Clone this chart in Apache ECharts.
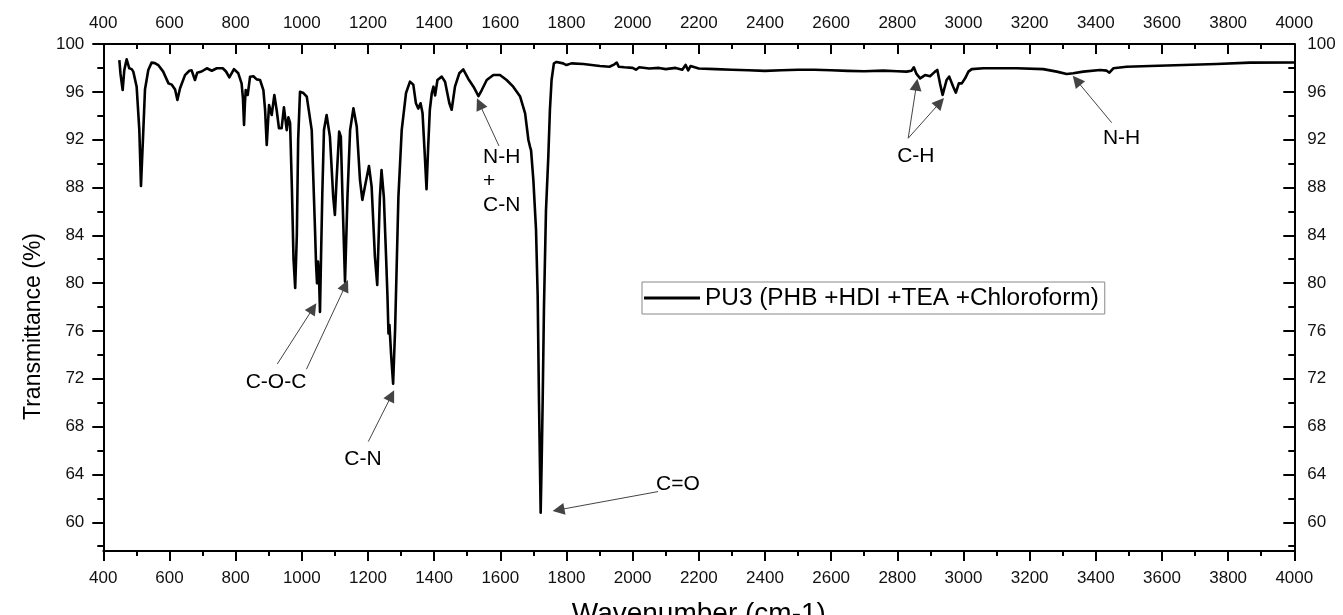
<!DOCTYPE html>
<html>
<head>
<meta charset="utf-8">
<script src="https://cdn.jsdelivr.net/npm/echarts@6/dist/echarts.min.js"></script>
<style>
html,body{margin:0;padding:0;background:#fff;}
#chart{width:1343px;height:615px;}
</style>
</head>
<body>
<div id="chart"></div>
<script>
// ---- data ----
const seriesName = 'PU3 (PHB +HDI +TEA +Chloroform)';
const wavenumber = [
 448.5,452,458.5,463.5,470.6,478.6,485.7,490.7,500.8,508.9,513.9,521,526,536,546,556,566,571,581,597,
 607,617,624,632,647,660,667,677,684,697,713,728,743,761,771,781,795,808,818,822,
 825.4,828,830.5,836.5,843.6,853.7,863.7,873.8,883.9,889,894,898,901,909,917,924,931,939,946,954.5,
 959.5,964.6,970,975,980,985,989,994.6,1005,1015,1030,1040,1043,1046,1049,1052,1055,1058,1062,1067,
 1075,1085,1095,1100,1105,1113,1118,1123,1130.6,1138,1146,1156,1166,1176,1183,1191,1203,1211,1221,1228,
 1236,1241,1248,1255,1259,1262,1265,1270,1276,1282,1292,1302,1315,1327,1337,1345,1352,1359,1365,1372,
 1377,1382,1387,1393,1398,1403,1410,1423,1433,1446,1453,1463,1476,1488,1503,1519,1534,1544,1559,1579,
 1599,1619,1639,1660,1675,1685,1690,1693,1700,1708,1713,1717,1720,1722,1725,1728,1732,1738,1745,1750,
 1755,1762,1770,1790,1800,1815,1851,1901,1930,1945,1952,1958,1975,2000,2010,2020,2050,2080,2100,2130,
 2150,2160,2168,2175,2200,2250,2300,2350,2400,2450,2500,2550,2600,2650,2700,2758,2800,2828,2843,2850,
 2858,2869,2884,2899,2914,2921,2929,2937,2949,2957,2969,2977,2986,2995,3005,3015,3025,3060,3161,3241,
 3282,3312,3332,3362,3413,3433,3441,3453,3493,3564,3665,3765,3866,4000
];
const transmittance = [
 98.66,97.5,96.15,97.83,98.72,97.97,97.9,97.69,96.43,92.8,88.13,92.8,96.2,97.83,98.44,98.4,98.24,98.4,97.69,96.71,
 96.6,96.2,95.32,96.3,97.4,97.76,97.8,96.99,97.6,97.7,97.97,97.76,97.97,97.97,97.7,97.2,97.9,97.55,96.71,95.5,
 93.23,95,96.15,95.74,97.26,97.3,97.04,96.99,96.15,94.5,91.56,93.5,94.9,94.06,95.74,94.48,92.95,92.95,94.7,92.8,
 93.87,93.4,88,82,79.6,84,92,96.0,95.9,95.6,92.8,84.45,81.66,80.0,81.8,80.5,77.6,82,87.5,92.8,
 94.06,92.25,87.2,85.7,88.6,92.67,92.25,87.2,80.13,87.2,92.8,94.62,93.1,88.6,86.96,88.1,89.8,88.1,82.2,79.85,
 87.2,89.46,87.2,82,78.87,75.8,76.5,74,71.6,76.1,87.2,92.8,95.9,96.85,96.6,95.04,94.6,95.04,94.2,90.58,
 87.85,91.4,94.5,95.9,96.43,95.7,96.99,97.27,96.85,95.04,94.5,96.43,97.55,97.88,97.1,96.43,95.65,96.15,96.99,97.41,
 97.41,96.99,96.43,95.6,94.2,91.97,91.4,91.1,88.6,84.45,78.9,70,64.5,60.8,65,70,78,86,90.5,94.5,
 96.99,98.38,98.5,98.38,98.24,98.38,98.33,98.16,98.1,98.3,98.45,98.1,98.05,98.0,97.85,98.05,97.95,98.0,97.9,98.0,
 97.85,98.25,97.8,98.15,97.95,97.9,97.85,97.8,97.75,97.8,97.85,97.85,97.8,97.75,97.72,97.77,97.72,97.69,97.77,98.05,
 97.5,97.13,97.4,97.3,97.69,97.83,96.71,95.74,96.99,97.27,96.43,95.93,96.71,96.71,97.13,97.69,97.9,97.97,97.97,97.9,
 97.69,97.49,97.55,97.69,97.83,97.77,97.6,97.97,98.1,98.16,98.24,98.33,98.44,98.45
];
const yMajorTicks = [60,64,68,72,76,80,84,88,92,96,100];
const yMinorTicks = [58,62,66,70,74,78,82,86,90,94,98];
// annotation texts with their anchor [wavenumber, %T]
const annotLabels = ['C-O-C','C-N','N-H\n+\nC-N','C=O','C-H','N-H'];
const annotAnchors = [[922,71.7],[1185,65.3],[1548,88.5],[2137,63.2],[2856,90.64],[3478,92.12]];
const annotAlign = ['center','center','left','center','center','center'];
// arrows: [tail, head]
const arrowLines = [
 [[926,73.24],[1034,77.9]],
 [[1014,72.8],[1132,79.8]],
 [[1201,66.75],[1271,70.6]],
 [[1596,91.47],[1537,95.0]],
 [[2077,62.57],[1776,61.04]],
 [[2833,92.12],[2858,96.6]],
 [[2833,92.12],[2929,95.1]],
 [[3448,93.42],[3342,96.95]]
];

const pts = wavenumber.map((w,i)=>[w, transmittance[i]]);
const FONT = 'Liberation Sans, Arial, Helvetica, sans-serif';
const tickLabel = {color:'#111', fontSize:17, fontFamily:FONT, formatter:(v)=>String(v)};

const chart = echarts.init(document.getElementById('chart'), null, {renderer:'canvas'});
const yBase = {type:'value', min:57.6, max:100, splitLine:{show:false}};
chart.setOption({
  animation:false,
  backgroundColor:'#fff',
  grid:{left:103.3, right:48.7, top:44, bottom:64, containLabel:false, outerBoundsMode:'none'},
  legend:{
    data:[seriesName], left:642, top:282, orient:'horizontal',
    borderColor:'#888', borderWidth:1, padding:[4,6,4,2],
    icon:'rect', itemWidth:56, itemHeight:3, itemGap:5,
    textStyle:{color:'#000', fontSize:24.4, fontFamily:FONT},
    selectedMode:false
  },
  xAxis:[
    {type:'value', position:'bottom', min:400, max:4000, interval:200,
     name:'Wavenumber (cm-1)', nameLocation:'middle', nameGap:49,
     nameTextStyle:{color:'#000', fontSize:28, fontFamily:FONT, verticalAlign:'top'},
     axisLine:{show:true, onZero:false, lineStyle:{color:'#000', width:2}},
     axisTick:{show:true, inside:false, length:10, lineStyle:{color:'#000', width:2}},
     minorTick:{show:true, splitNumber:2, length:5, lineStyle:{color:'#000', width:2}},
     axisLabel:Object.assign({}, tickLabel, {margin:19}),
     splitLine:{show:false}},
    {type:'value', position:'top', min:400, max:4000, interval:200,
     axisLine:{show:true, onZero:false, lineStyle:{color:'#000', width:2}},
     axisTick:{show:true, inside:true, length:10, lineStyle:{color:'#000', width:2}},
     minorTick:{show:true, splitNumber:2, length:5, lineStyle:{color:'#000', width:2}},
     axisLabel:Object.assign({}, tickLabel, {margin:12}),
     splitLine:{show:false}}
  ],
  yAxis:[
    Object.assign({}, yBase, {position:'left',
     name:'Transmittance (%)', nameLocation:'middle', nameGap:58,
     nameTextStyle:{color:'#000', fontSize:23, fontFamily:FONT, padding:[0,58,0,0]},
     axisLine:{show:true, onZero:false, lineStyle:{color:'#000', width:2}},
     axisTick:{show:true, inside:false, length:11, customValues:yMajorTicks, lineStyle:{color:'#000', width:2}},
     axisLabel:Object.assign({}, tickLabel, {margin:19, customValues:yMajorTicks})}),
    Object.assign({}, yBase, {position:'left',
     axisLine:{show:false},
     axisTick:{show:true, inside:false, length:6, customValues:yMinorTicks, lineStyle:{color:'#000', width:2}},
     axisLabel:{show:false}}),
    Object.assign({}, yBase, {position:'right',
     axisLine:{show:true, onZero:false, lineStyle:{color:'#000', width:2}},
     axisTick:{show:true, inside:true, length:11, customValues:yMajorTicks, lineStyle:{color:'#000', width:2}},
     axisLabel:Object.assign({}, tickLabel, {margin:13, customValues:yMajorTicks})}),
    Object.assign({}, yBase, {position:'right',
     axisLine:{show:false},
     axisTick:{show:true, inside:true, length:6, customValues:yMinorTicks, lineStyle:{color:'#000', width:2}},
     axisLabel:{show:false}})
  ],
  series:[{
    name:seriesName, type:'line', xAxisIndex:0, yAxisIndex:0,
    data:pts, showSymbol:false, symbol:'none', smooth:false,
    color:'#000', lineStyle:{color:'#000', width:2.6, join:'round'},
    emphasis:{disabled:true}, silent:true,
    markLine:{
      silent:true, symbol:['none','triangle'], symbolSize:12,
      label:{show:false}, emphasis:{disabled:true},
      itemStyle:{color:'#000'},
      lineStyle:{color:'#444', width:1, type:'solid'},
      data: arrowLines.map(a=>[{coord:a[0]},{coord:a[1], itemStyle:{color:'#000'}}])
    },
    markPoint:{
      silent:true, symbol:'circle', symbolSize:1,
      itemStyle:{color:'rgba(0,0,0,0)'},
      data: annotLabels.map((t,i)=>({
        coord:annotAnchors[i], value:t,
        label:{show:true, position:'inside', formatter:t, align:annotAlign[i],
               color:'#000', fontSize:21, lineHeight:24, fontFamily:FONT}
      }))
    }
  }]
});
</script>
</body>
</html>
